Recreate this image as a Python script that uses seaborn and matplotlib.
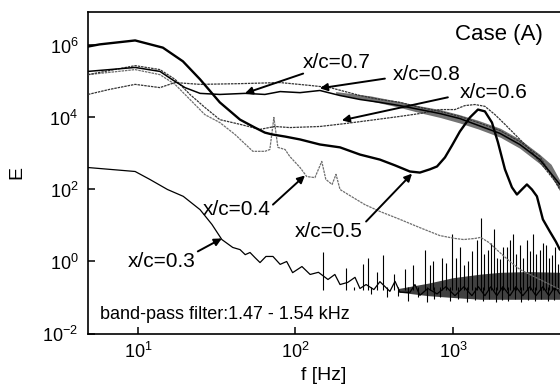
import numpy as np
import pandas as pd
import matplotlib
matplotlib.use("Agg")
import matplotlib.pyplot as plt
import seaborn as sns

# ---------------- data (E given as log10 values) -------------
f_05 = [4.82, 5.7, 9.6, 14.4, 19.3, 24.8, 33.1, 44.5, 55.3, 64, 71, 86, 107, 143, 192, 257,
        344, 429, 533, 617, 714, 793, 890, 986, 1107, 1282, 1442, 1596, 1770, 1932, 2140,
        2370, 2550, 2740, 2950, 3175, 3415, 3726, 4128, 4508, 4780]
e_05 = [5.97, 6.03, 6.14, 5.94, 5.56, 5.06, 4.42, 3.94, 3.72, 3.58, 3.53, 3.47, 3.39, 3.25,
        3.17, 2.97, 2.83, 2.67, 2.5, 2.47, 2.56, 2.64, 2.89, 3.22, 3.61, 4.0, 4.22, 4.17,
        3.86, 3.31, 2.56, 2.06, 1.86, 2.0, 2.14, 2.0, 1.81, 1.17, 0.83, 0.55, 0.33]

f_06 = [4.82, 9.6, 13.8, 17.2, 21.4, 26.6, 33.1, 44.5, 59.6, 74, 92, 143, 206, 297, 461,
        617, 826, 1030, 1191, 1380, 1596, 1849, 2140, 3083, 4780]
e_06 = [5.19, 5.44, 5.33, 5.06, 4.64, 4.28, 3.94, 3.81, 3.67, 3.75, 3.72, 3.75, 3.83, 3.92,
        4.03, 4.11, 4.22, 4.22, 4.33, 4.36, 4.31, 4.08, 3.81, 3.11, 2.06]

f_07 = [4.82, 9.6, 13.8, 16.4, 19.9, 24.8, 33.1, 48, 64, 80, 107, 143, 192, 257, 344, 461,
        617, 826, 1107, 1450, 1985, 2660, 3565, 4780]
e_07 = [5.28, 5.39, 5.28, 5.06, 4.83, 4.67, 4.64, 4.67, 4.64, 4.72, 4.69, 4.75, 4.61, 4.5,
        4.42, 4.33, 4.22, 4.11, 3.97, 3.78, 3.56, 3.25, 2.83, 2.14]

f_08 = [4.82, 6.6, 9.6, 13.8, 17.2, 24.8, 44.5, 80, 124, 166, 257, 344, 461, 617, 826,
        1107, 1450, 1985, 2660, 3565, 4780]
e_08 = [4.64, 4.78, 4.92, 4.83, 4.97, 4.92, 4.94, 4.97, 4.89, 4.83, 4.61, 4.5, 4.42, 4.28,
        4.17, 4.03, 3.86, 3.64, 3.33, 2.92, 2.0]

f_04 = [4.82, 9.6, 13.8, 17.2, 21.4, 26.6, 33.1, 41.3, 53.7, 64, 68.8, 73, 77.4, 86, 92, 107,
        118, 133, 147, 156, 171, 181, 192, 222, 276, 344, 461, 617, 826, 1030, 1170, 1380,
        1500, 1690, 1985, 2300, 2660, 3565, 4780]
e_04 = [5.19, 5.33, 5.19, 4.92, 4.5, 4.08, 3.86, 3.53, 3.06, 3.06, 3.11, 4.0, 3.17, 3.11,
        2.92, 2.61, 2.36, 2.33, 2.78, 2.28, 2.14, 2.42, 2.0, 1.83, 1.58, 1.39, 1.17, 0.94,
        0.72, 0.64, 0.61, 0.64, 0.67, 0.53, 0.25, 0.0, -0.22, -0.5, -0.78]

f_03 = [4.82, 9.6, 11.9, 15.4, 19.4, 24.8, 29.5, 34.1, 40, 44.5, 48, 51.5, 55.3, 59.6, 65,
        72, 80, 88, 96, 110, 124, 140, 161, 178, 192, 215, 239, 257, 281, 315, 344, 398,
        429, 461, 533, 574, 617, 693, 793, 903, 1030, 1175, 1320, 1450, 1596, 1742, 1900,
        2075, 2300, 2510, 2780, 3085, 3365, 3726, 4070, 4450, 4780]
e_03 = [2.61, 2.5, 2.28, 2.0, 1.81, 1.44, 1.03, 0.61, 0.39, 0.33, 0.19, 0.25, 0.11, -0.03,
        0.14, 0.14, -0.08, 0.0, -0.31, -0.14, -0.36, -0.3, -0.5, -0.36, -0.64, -0.58,
        -0.44, -0.75, -0.64, -0.78, -0.56, -0.83, -0.55, -0.85, -0.86, -0.64, -0.94, -0.75,
        -0.9, -0.7, -0.95, -0.7, -0.95, -0.7, -0.95, -0.7, -0.95, -0.7, -0.95, -0.7, -0.95,
        -0.7, -0.95, -0.7, -0.95, -0.7, -0.9]

# spikes on the x/c=0.3 spectrum (upward) and dips (downward)
spike_f = [150, 208, 268, 290, 330, 362, 420, 495, 560, 663, 720, 746, 851, 903, 986, 1050,
           1107, 1175, 1245, 1320, 1420, 1500, 1580, 1668, 1742, 1820, 1900, 1985, 2075,
           2200, 2300, 2400, 2510, 2660, 2780, 2950, 3085, 3220, 3365, 3565, 3726, 3890,
           4070, 4260, 4450, 4650]
spike_top = [0.25, -0.17, -0.08, 0.11, -0.3, 0.19, -0.35, -0.22, -0.1, 0.33, -0.1, 0.0,
             0.11, -0.05, 0.75, 0.1, 0.39, -0.1, 0.0, 0.3, 0.61, 1.22, 0.2, 0.33, 0.5, 0.89,
             0.1, 0.06, 0.4, 0.39, 0.6, 0.75, 0.2, 0.47, 0.1, 0.61, 0.3, 0.75, 0.2, 0.33,
             0.5, 0.47, 0.1, 0.19, 0.4, -0.08]
dip_f = [235, 300, 380, 450, 520, 600, 680, 760, 830, 960, 1080, 1230, 1380, 1550, 1700,
         1870, 2050, 2250, 2480, 2720, 3000, 3300, 3650, 4000, 4380]
dip_bot = [-0.8, -0.9, -1.0, -0.95, -1.1, -1.0, -1.12, -1.05, -1.0, -1.1, -1.05, -1.12,
           -1.08, -1.1, -1.05, -1.12, -1.08, -1.1, -1.05, -1.12, -1.08, -1.1, -1.05, -1.1,
           -1.08]

# noisy band of x/c=0.7 / 0.8 at high frequency
band_f = [180, 300, 450, 620, 830, 1100, 1450, 2000, 2650, 3550, 4200, 4780]
band_lo = [4.65, 4.46, 4.29, 4.13, 4.0, 3.85, 3.68, 3.45, 3.15, 2.72, 2.4, 1.95]
band_hi = [4.72, 4.6, 4.45, 4.32, 4.22, 4.08, 3.92, 3.7, 3.4, 2.98, 2.7, 2.25]

# noise floor of x/c=0.3
floor_f = [450, 700, 1000, 1500, 2000, 3000, 4780]
floor_lo = [-0.85, -0.95, -1.0, -1.05, -1.05, -1.05, -1.05]
floor_hi = [-0.75, -0.6, -0.45, -0.35, -0.3, -0.28, -0.3]

# labels: text (f, logE) and arrow start/tip (f, logE)
labels = ["x/c=0.7", "x/c=0.8", "x/c=0.6", "x/c=0.4", "x/c=0.5", "x/c=0.3"]
label_f = [112, 416, 1107, 25.9, 99.3, 8.65]
label_e = [5.53, 5.19, 4.69, 1.44, 0.83, 0.0]
arrow_start_f = [112, 370, 929, 72, 281, 24]
arrow_start_e = [5.22, 5.08, 4.56, 1.58, 1.11, 0.28]
arrow_tip_f = [47.8, 143, 197, 115, 550, 34.1]
arrow_tip_e = [4.67, 4.81, 3.92, 2.39, 2.44, 0.64]

# ---------------- style -------------
sns.set_theme(style="ticks")
plt.rcParams["font.family"] = ["Liberation Sans", "DejaVu Sans"]
plt.rcParams["mathtext.fontset"] = "custom"
plt.rcParams["mathtext.rm"] = "Liberation Sans"
plt.rcParams["mathtext.it"] = "Liberation Sans:italic"
plt.rcParams["mathtext.bf"] = "Liberation Sans:bold"

fig = plt.figure(figsize=(5.6, 3.89), dpi=100)
ax = fig.add_axes([88 / 560, 1 - 333.5 / 389, 1 - 88 / 560, (333.5 - 12) / 389])
ax.set_xscale("log")
ax.set_yscale("log")

def p(v):
    return np.power(10.0, np.asarray(v, dtype=float))

# bands
ax.fill_between(band_f, p(band_lo), p(band_hi), color="#444444", lw=0, alpha=0.75, zorder=2)
ax.fill_between(floor_f, p(floor_lo), p(floor_hi), color="#111111", lw=0, alpha=0.8, zorder=2)
ax.vlines(spike_f, p([-0.8] * len(spike_f)), p(spike_top), color="black", lw=0.8, zorder=3)
ax.vlines(dip_f, p(dip_bot), p([-0.7] * len(dip_f)), color="black", lw=0.8, zorder=3)

def draw(fv, ev, color, lw, ls="-", z=4):
    df = pd.DataFrame({"f": fv, "E": p(ev)})
    sns.lineplot(data=df, x="f", y="E", ax=ax, color=color, lw=lw, linestyle=ls,
                 estimator=None, sort=False, zorder=z)

draw(f_03, e_03, "black", 0.9)
draw(f_04, e_04, "#6e6e6e", 0.9, (0, (2.0, 0.7)))
draw(f_06, e_06, "#333333", 0.9, (0, (2.0, 0.7)))
draw(f_08, e_08, "#333333", 0.9, (0, (2.0, 0.7)))
draw(f_07, e_07, "black", 1.1)
draw(f_05, e_05, "black", 1.7, "-", 5)

# limits & axes
ax.set_xlim(10 ** 0.683, 10 ** 3.68)
ax.set_ylim(1e-2, 10 ** 6.93)
ax.set_xticks([1e1, 1e2, 1e3])
ax.set_xticklabels([r"$10^{1}$", r"$10^{2}$", r"$10^{3}$"])
ax.set_yticks([1e-2, 1e0, 1e2, 1e4, 1e6])
ax.set_yticklabels([r"$10^{-2}$", r"$10^{0}$", r"$10^{2}$", r"$10^{4}$", r"$10^{6}$"])
ax.minorticks_off()
ax.tick_params(axis="both", which="major", direction="in", length=5, width=1.1,
               labelsize=13, colors="black")
ax.tick_params(axis="x", pad=6)
ax.tick_params(axis="y", pad=7)
for s in ["left", "bottom", "top"]:
    ax.spines[s].set_linewidth(1.2)
    ax.spines[s].set_color("black")
ax.spines["right"].set_visible(False)

ax.set_xlabel("f [Hz]", fontsize=14, labelpad=4, color="black")
ax.set_ylabel("E", fontsize=14, labelpad=12, color="black")

ax.text(1030, 10 ** 6.31, "Case (A)", fontsize=16, ha="left", va="center", color="black")
ax.text(5.74, 10 ** -1.47, "band-pass filter:1.47 - 1.54 kHz", fontsize=13,
        ha="left", va="center", color="black")

for lab, lf, le, sf, se, tf, te in zip(labels, label_f, label_e, arrow_start_f, arrow_start_e,
                                        arrow_tip_f, arrow_tip_e):
    ax.text(lf, 10 ** le, lab, fontsize=15, ha="left", va="center", color="black", zorder=6)
    ax.annotate("", xy=(tf, 10 ** te), xytext=(sf, 10 ** se),
                arrowprops=dict(arrowstyle="-|>", color="black", lw=1.4,
                                mutation_scale=11, shrinkA=0, shrinkB=0), zorder=6)

fig.savefig("out.png", dpi=100)
